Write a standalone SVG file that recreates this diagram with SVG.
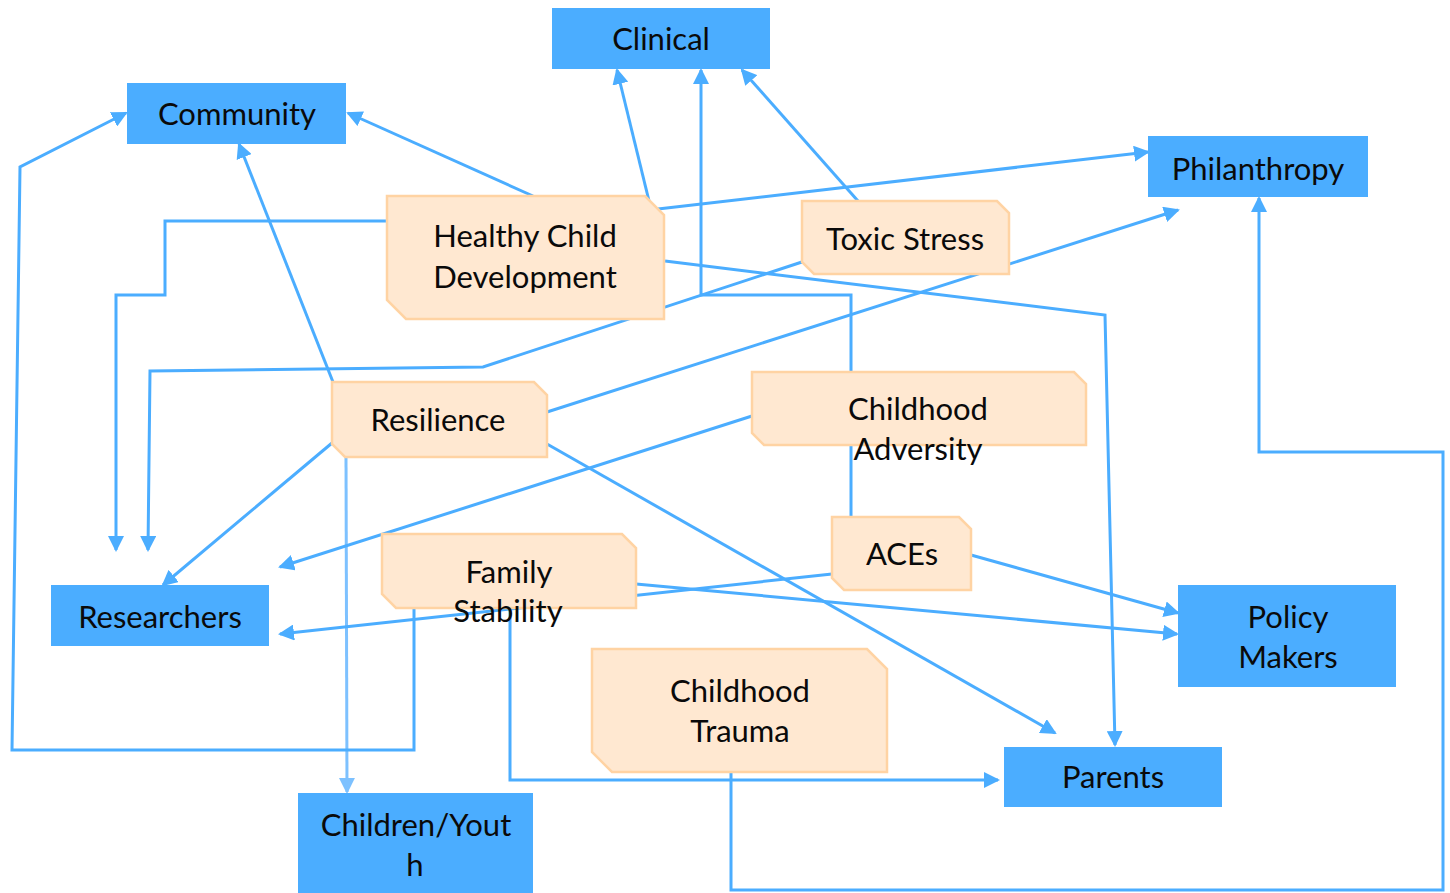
<svg xmlns="http://www.w3.org/2000/svg" width="1450" height="893" viewBox="0 0 1450 893">
<defs>
<marker id="ah" markerUnits="userSpaceOnUse" markerWidth="16" markerHeight="16" viewBox="0 0 16 16" refX="14" refY="8" orient="auto"><path d="M0,0 L16,8 L0,16 z" fill="#4BADFF"/></marker>
<marker id="ahl" markerUnits="userSpaceOnUse" markerWidth="16" markerHeight="16" viewBox="0 0 16 16" refX="14" refY="8" orient="auto"><path d="M0,0 L16,8 L0,16 z" fill="#7DC1FF"/></marker>
<style>
.e{fill:none;stroke:#4BADFF;stroke-width:3;marker-end:url(#ah)}
.el{fill:none;stroke:#7DC1FF;stroke-width:3;marker-end:url(#ahl)}
.b{fill:#4BADFF}
.o{fill:#FFE8D1;stroke:#FFD3A3;stroke-width:2.5}
text{font-family:Lato,"Liberation Sans",sans-serif;font-size:31px;fill:#0a0a0a;text-anchor:middle}
</style>
</defs>
<rect width="1450" height="893" fill="#fff"/>
<g id="connectors">
<path class="e" d="M533,196 L348,113"/>
<path class="e" d="M650,205 L617,70"/>
<path class="e" d="M851,517 L851,295 L701,295 L701,70"/>
<path class="e" d="M858,201 L742,70"/>
<path class="e" d="M658,209 L1148,152"/>
<path class="e" d="M387,221 L165,221 L165,295 L116,295 L116,550"/>
<path class="e" d="M805,261 L483,367 L150,371 L148,550"/>
<path class="e" d="M665,261 L1105,315 L1115,745"/>
<path class="e" d="M333,382 L239,144"/>
<path class="e" d="M547,412 L1178,210"/>
<path class="e" d="M332,443 L163,585"/>
<path class="el" d="M346,457 L347,792"/>
<path class="e" d="M547,444 L1055,733"/>
<path class="e" d="M752,416 L280,567"/>
<path class="e" d="M832,574 L280,634"/>
<path class="e" d="M636,584 L1177,634"/>
<path class="e" d="M971,555 L1178,613"/>
<path class="e" d="M414,608 L414,750 L12,750 L20,167 L126,113"/>
<path class="e" d="M510,608 L510,780 L998,780"/>
<path class="e" d="M731,772 L731,890 L1443,890 L1443,452 L1259,452 L1259,198"/>
</g>
<g id="clinical"><rect class="b" x="552" y="8" width="218" height="61"/><text x="661" y="50">Clinical</text></g>
<g id="community"><rect class="b" x="127" y="83" width="219" height="61"/><text x="237" y="125">Community</text></g>
<g id="philanthropy"><rect class="b" x="1148" y="136" width="220" height="61"/><text x="1258" y="180">Philanthropy</text></g>
<g id="researchers"><rect class="b" x="51" y="585" width="218" height="61"/><text x="160" y="628">Researchers</text></g>
<g id="children-youth"><rect class="b" x="298" y="793" width="235" height="100"/><text x="416" y="836">Children/Yout</text><text x="415" y="876">h</text></g>
<g id="policy-makers"><rect class="b" x="1178" y="585" width="218" height="102"/><text x="1288" y="628">Policy</text><text x="1288" y="668">Makers</text></g>
<g id="parents"><rect class="b" x="1004" y="747" width="218" height="60"/><text x="1113" y="788">Parents</text></g>
<g id="healthy-child-development"><polygon class="o" points="387,196 645,196 664,215 664,319 406,319 387,300"/><text x="525" y="247">Healthy Child</text><text x="525" y="288">Development</text></g>
<g id="toxic-stress"><polygon class="o" points="802,201 997,201 1009,213 1009,274 814,274 802,262"/><text x="905" y="250">Toxic Stress</text></g>
<g id="childhood-adversity"><polygon class="o" points="752,372 1074,372 1086,384 1086,445 764,445 752,433"/><text x="918" y="420">Childhood</text><text x="918" y="460">Adversity</text></g>
<g id="aces"><polygon class="o" points="832,517 959,517 971,529 971,590 844,590 832,578"/><text x="902" y="565">ACEs</text></g>
<g id="resilience"><polygon class="o" points="332,382 534,382 547,395 547,457 345,457 332,444"/><text x="438" y="431">Resilience</text></g>
<g id="family-stability"><polygon class="o" points="382,534 622,534 636,548 636,608 396,608 382,594"/><text x="509" y="583">Family</text><text x="508" y="622">Stability</text></g>
<g id="childhood-trauma"><polygon class="o" points="592,649 867,649 887,669 887,772 612,772 592,752"/><text x="740" y="702">Childhood</text><text x="740" y="742">Trauma</text></g>
</svg>
